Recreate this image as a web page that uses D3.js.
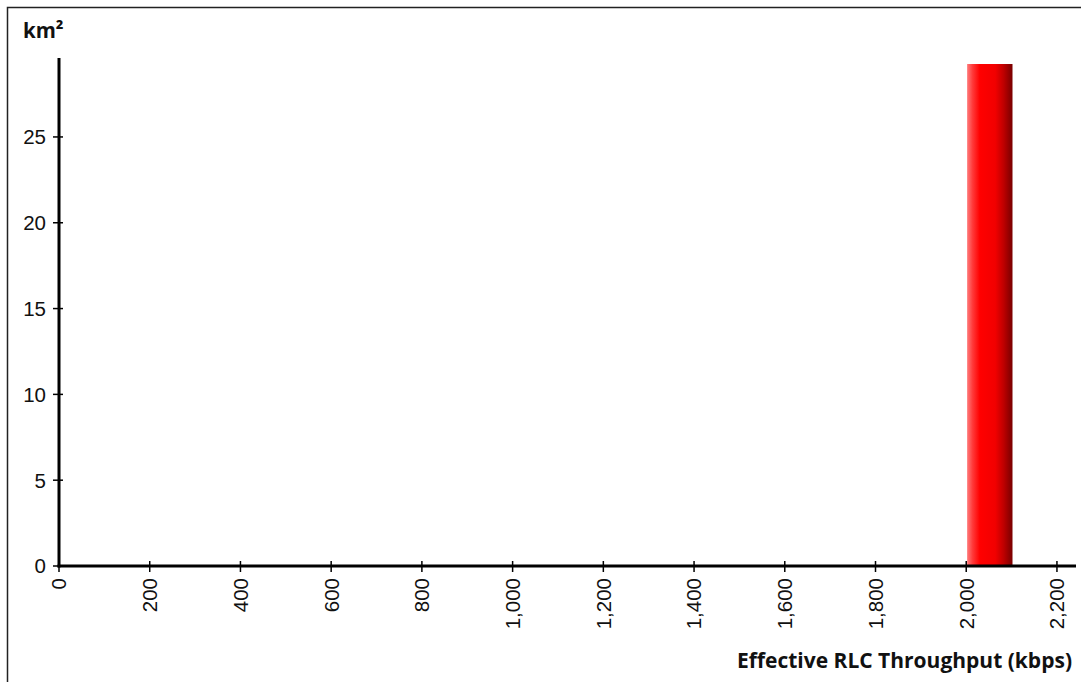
<!DOCTYPE html>
<html><head><meta charset="utf-8">
<script src="https://cdn.jsdelivr.net/npm/d3@7"></script>
<style>body{margin:0;background:#fff}svg{display:block}</style>
</head><body>
<svg id="c" width="1081" height="682"></svg>
<script>
const binStarts = [2002];
const binEnds = [2102];
const areas = [29.25];
const xTicks = [0,200,400,600,800,1000,1200,1400,1600,1800,2000,2200];
const yTicks = [0,5,10,15,20,25];
const xTitle = "Effective RLC Throughput (kbps)";
const yTitle = "km²";

const svg = d3.select("#c");
const W = 1081, H = 682;
svg.append("path").attr("d", `M7.5,${H} V7.5 H${W}`).attr("fill","none").attr("stroke","#222").attr("stroke-width",1.5);

const x = d3.scaleLinear().domain([0, 2242]).range([59, 1076]);
const y = d3.scaleLinear().domain([0, 29.6]).range([566, 58]);

const defs = svg.append("defs");
const g = defs.append("linearGradient").attr("id","bg").attr("x1","0").attr("x2","1").attr("y1","0").attr("y2","0");
[[0,"#ff7a7a"],[0.12,"#ff3a3a"],[0.28,"#ff0000"],[0.62,"#f20000"],[0.8,"#c00000"],[1,"#780000"]].forEach(s=>g.append("stop").attr("offset",s[0]).attr("stop-color",s[1]));

svg.selectAll("rect.bar").data(areas).enter().append("rect").attr("class","bar")
  .attr("x",(d,i)=>x(binStarts[i])).attr("width",(d,i)=>x(binEnds[i])-x(binStarts[i]))
  .attr("y",d=>y(d)).attr("height",d=>y(0)-y(d)).attr("fill","url(#bg)");

const tickFont = "Liberation Sans, Arial, sans-serif";
// Y axis
const ya = svg.append("g");
ya.append("line").attr("x1",x(0)).attr("x2",x(0)).attr("y1",y.range()[1]).attr("y2",y(0)+1.5).attr("stroke","#000").attr("stroke-width",3);
ya.selectAll("line.t").data(yTicks).enter().append("line").attr("class","t")
  .attr("x1",x(0)-6).attr("x2",d=>d===0?x(0):x(0)+4).attr("y1",d=>y(d)).attr("y2",d=>y(d)).attr("stroke","#000").attr("stroke-width",1.5);
ya.selectAll("text").data(yTicks).enter().append("text")
  .attr("x",x(0)-13).attr("y",d=>y(d)).attr("dy","0.36em").attr("text-anchor","end")
  .attr("font-family",tickFont).attr("font-size",20.5).attr("fill","#111").text(d=>d);

// X axis
const xa = svg.append("g");
xa.append("line").attr("x1",x(0)-1.5).attr("x2",x.range()[1]).attr("y1",y(0)).attr("y2",y(0)).attr("stroke","#000").attr("stroke-width",3);
xa.selectAll("line.t").data(xTicks).enter().append("line").attr("class","t")
  .attr("x1",d=>x(d)).attr("x2",d=>x(d)).attr("y1",d=>d===0?y(0):y(0)-5).attr("y2",y(0)+6).attr("stroke","#000").attr("stroke-width",1.5);
const fmt = d3.format(",");
xa.selectAll("text").data(xTicks).enter().append("text")
  .attr("transform",d=>`translate(${x(d)},${y(0)+12}) rotate(-90)`)
  .attr("dy","0.36em").attr("text-anchor","end")
  .attr("font-family",tickFont).attr("font-size",20.5).attr("fill","#111").text(d=>fmt(d));

svg.append("text").attr("x",1072).attr("y",668).attr("text-anchor","end")
  .attr("font-family","Open Sans, Noto Sans, sans-serif").attr("font-weight","bold").attr("font-size",21).attr("fill","#111").text(xTitle);
svg.append("text").attr("x",23).attr("y",38)
  .attr("font-family","Open Sans, Noto Sans, sans-serif").attr("font-weight","bold").attr("font-size",20.5).attr("fill","#111").text(yTitle);
</script>
</body></html>
